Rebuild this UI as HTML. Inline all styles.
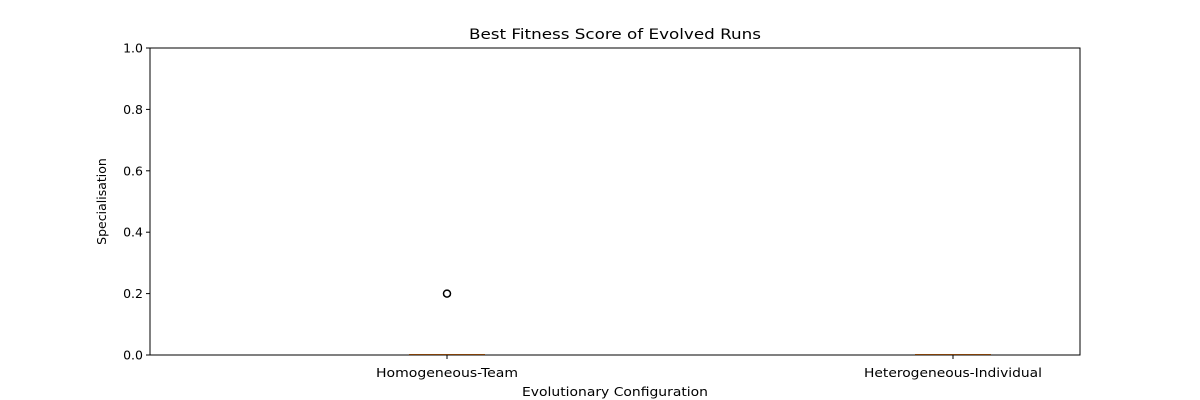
<!DOCTYPE html>
<html><head><meta charset="utf-8"><style>
body{margin:0;background:#fff;}
svg{display:block;font-family:"DejaVu Sans","Liberation Sans",sans-serif;}
</style></head><body>
<svg id="chart" width="1200" height="400"></svg>
<script>
const categories=["Homogeneous-Team","Heterogeneous-Individual"];
const q1Values=[0,0];
const medianValues=[0,0];
const q3Values=[0,0];
const whiskerLow=[0,0];
const whiskerHigh=[0,0];
const outliers=[[0.2],[]];
const yTicks=[0,0.2,0.4,0.6,0.8,1.0];
const yTickLabels=["0.0","0.2","0.4","0.6","0.8","1.0"];

const L=150,R=1080,T=48,B=355;
const NS="http://www.w3.org/2000/svg";
const svg=document.getElementById('chart');
function y(v){return B-(v-0)/(1-0)*(B-T);}
function xp(i){const lo=0.5,hi=categories.length+0.5;return L+((i+1)-lo)/(hi-lo)*(R-L)*1.088-( (R-L)*0.044 );}
function el(tag,attrs,parent){const e=document.createElementNS(NS,tag);for(const k in attrs)e.setAttribute(k,attrs[k]);(parent||svg).appendChild(e);return e;}
const xCenters=[447,953];

const title=el('text',{x:615,y:39,'text-anchor':'middle','font-size':14,fill:'#000',textLength:292,lengthAdjust:'spacingAndGlyphs'});
title.textContent="Best Fitness Score of Evolved Runs";



yTicks.forEach((t,i)=>{
  const tk=el('line',{x1:L-4,x2:L,y1:y(t),y2:y(t),stroke:'#000','stroke-width':1});
  
  
  const lb=el('text',{x:L-7,y:y(t)+4.5,'text-anchor':'end','font-size':12.5,fill:'#000'});
  lb.textContent=yTickLabels[i];
  
  
});
const yt=el('text',{x:0,y:0,'text-anchor':'middle','font-size':12.5,transform:`translate(106,${(T+B)/2}) rotate(-90)`});
yt.textContent="Specialisation";



const labelWidths=[142,178];
const bw=76;
categories.forEach((c,i)=>{
  const cx=xCenters[i];
  const tk=el('line',{x1:cx,x2:cx,y1:B,y2:B+4,stroke:'#000'});
  
  
  const lb=el('text',{x:cx,y:B+22,'text-anchor':'middle','font-size':12.5,textLength:labelWidths[i],lengthAdjust:'spacingAndGlyphs'});
  lb.textContent=c;
  
  
  const g=el('g',{});
  
  
  el('line',{x1:cx,x2:cx,y1:y(whiskerLow[i]),y2:y(q1Values[i]),stroke:'#000'},g);
  el('line',{x1:cx,x2:cx,y1:y(q3Values[i]),y2:y(whiskerHigh[i]),stroke:'#000'},g);
  el('line',{x1:cx-bw/4,x2:cx+bw/4,y1:y(whiskerLow[i]),y2:y(whiskerLow[i]),stroke:'#000'},g);
  el('line',{x1:cx-bw/4,x2:cx+bw/4,y1:y(whiskerHigh[i]),y2:y(whiskerHigh[i]),stroke:'#000'},g);
  el('rect',{x:cx-bw/2,y:y(q3Values[i]),width:bw,height:Math.max(0,y(q1Values[i])-y(q3Values[i])),fill:'none',stroke:'#000'},g);
  const md=el('line',{x1:cx-bw/2,x2:cx+bw/2,y1:y(medianValues[i])-0.5,y2:y(medianValues[i])-0.5,stroke:'#ff7f0e','stroke-width':1},g);
  
  
  outliers[i].forEach(v=>{
    const o=el('circle',{cx:cx,cy:y(v),r:3.5,fill:'none',stroke:'#000','stroke-width':1.5});
    
    
  });
});

const frame=el('rect',{x:L,y:T,width:R-L,height:B-T,fill:'none',stroke:'#000','stroke-width':1});



const xt=el('text',{x:615,y:396,'text-anchor':'middle','font-size':12.5,textLength:186,lengthAdjust:'spacingAndGlyphs'});
xt.textContent="Evolutionary Configuration";


</script>
</body></html>
